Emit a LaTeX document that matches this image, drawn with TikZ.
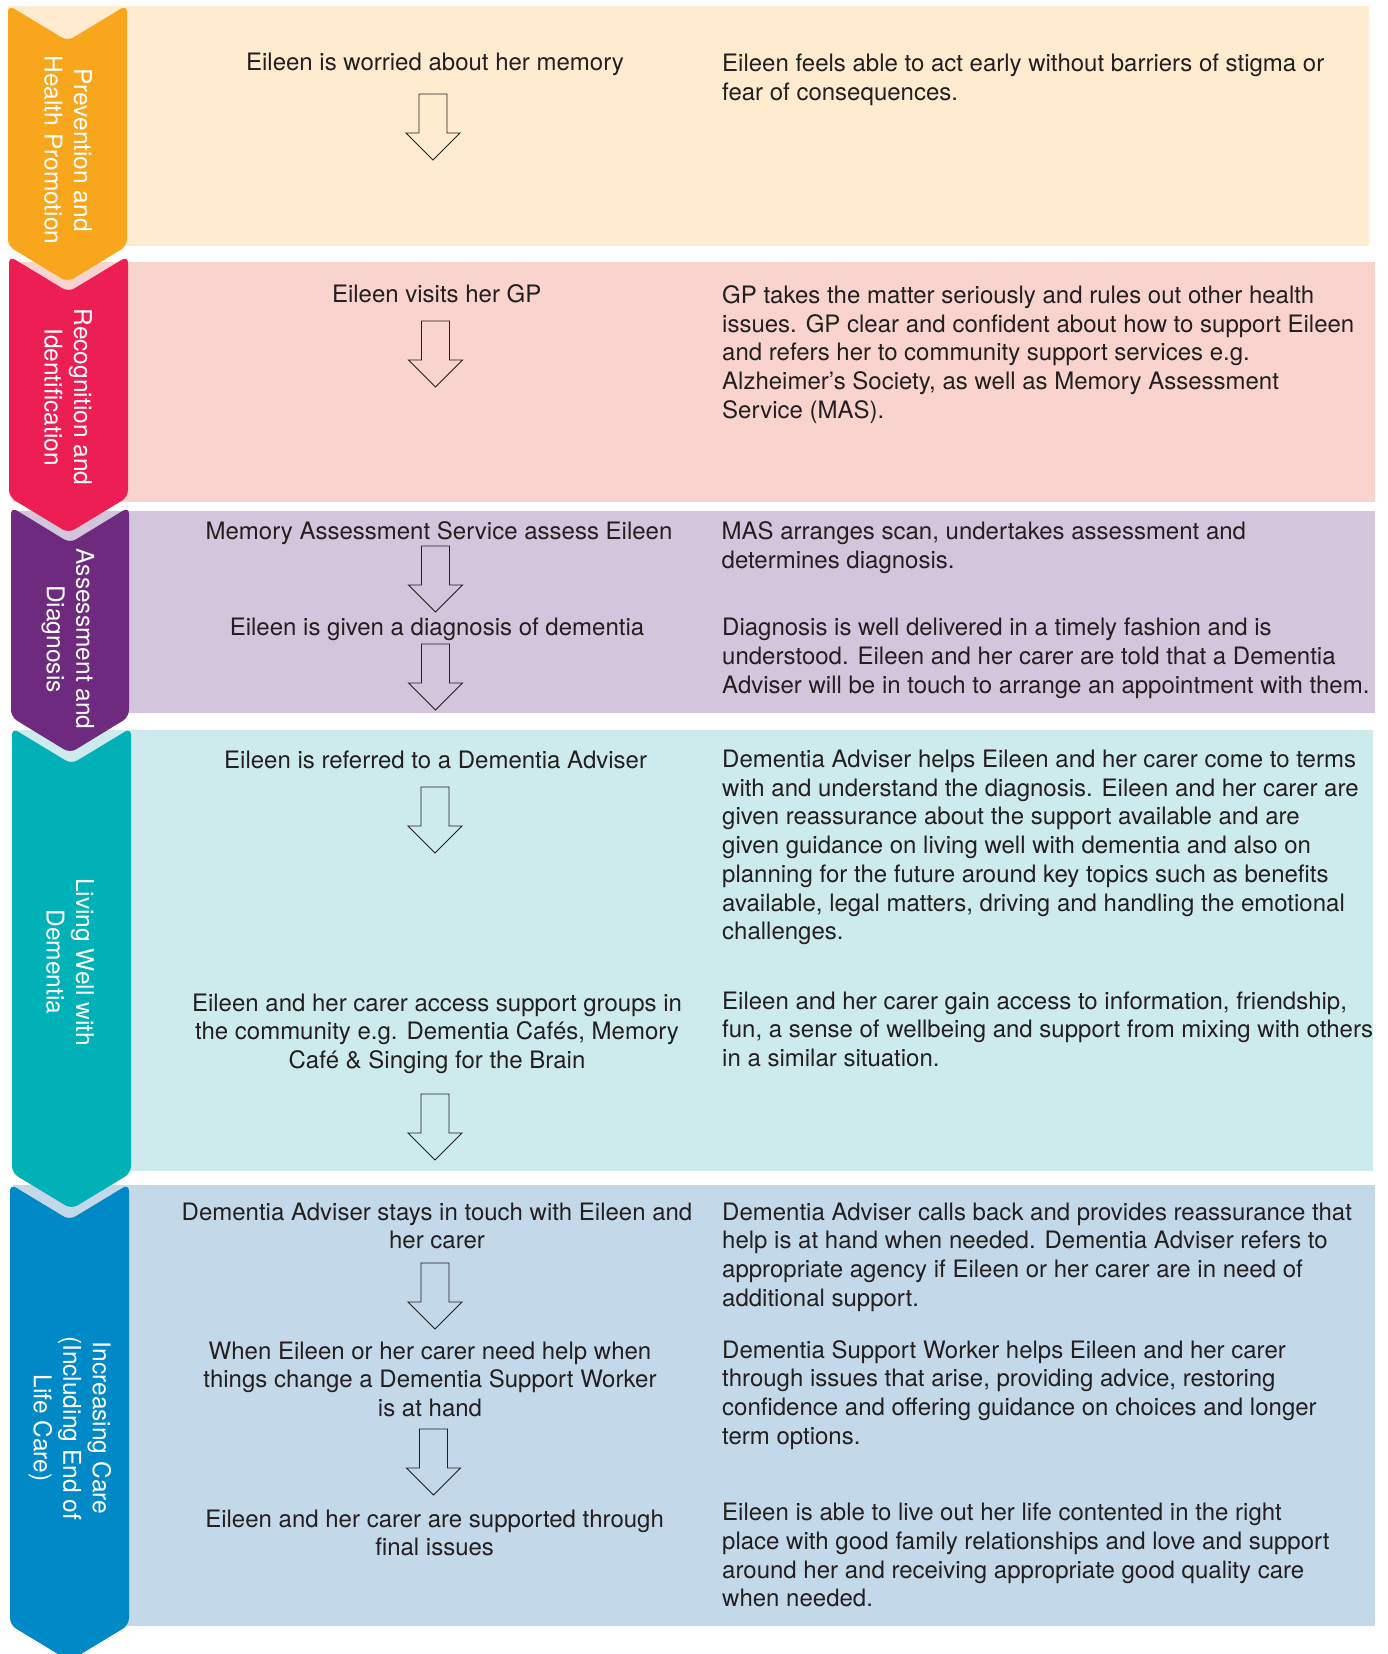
\documentclass[tikz,border=0pt]{standalone}
\usepackage{fontspec}
\setmainfont{TeX Gyre Heros}
\definecolor{ink}{HTML}{231F20}
\definecolor{cOrange}{HTML}{F8A71C}
\definecolor{bOrange}{HTML}{FEEBD0}
\definecolor{cRed}{HTML}{ED1E53}
\definecolor{bRed}{HTML}{F9D3CD}
\definecolor{cPurple}{HTML}{6D2A7E}
\definecolor{bPurple}{HTML}{D3C5DB}
\definecolor{cTeal}{HTML}{00B1B8}
\definecolor{bTeal}{HTML}{CDEAED}
\definecolor{cBlue}{HTML}{0089C7}
\definecolor{bBlue}{HTML}{C3D8E8}
\newcommand\mychevron[5]{%
  \path[fill=#5, rounded corners=7pt] (#1,#3) -- ({(#1+#2)/2},{#3+36}) -- (#2,#3) -- (#2,#4) -- ({(#1+#2)/2},{#4+36}) -- (#1,#4) -- cycle;}
\tikzset{
  body/.style={font=\fontsize{24}{28.7}\selectfont, text=ink, inner sep=0pt},
  lcol/.style={body, align=center, anchor=base},
  rcol/.style={body, align=left, anchor=base west},
  lab/.style={font=\fontsize{24.5}{29.5}\selectfont, text=white, align=center, rotate=-90, inner sep=0pt},
  downarrow/.pic={\draw[ink, line width=0.9pt, line join=miter] (-14,0) -- (14,0) -- (14,39) -- (27,39) -- (0,66) -- (-27,39) -- (-14,39) -- cycle;}
}
\begin{document}
\begin{tikzpicture}[x=1pt, y=-1pt]
\useasboundingbox (0,0) rectangle (1387,1654);
\clip (0,0) rectangle (1387,1654);
% bands
\fill[bOrange] (8,6) rectangle (1369,246);
\fill[bRed] (13,262) rectangle (1375,502);
\fill[bPurple] (13,511) rectangle (1375,713);
\fill[bTeal] (13,730) rectangle (1373,1171);
\fill[bBlue] (13,1185) rectangle (1375,1626);
% chevrons
\mychevron{8}{127}{5}{246}{cOrange}
\mychevron{9}{128}{256}{497}{cRed}
\mychevron{11}{129}{507}{717}{cPurple}
\mychevron{12}{131}{728}{1173}{cTeal}
\mychevron{10}{129}{1184}{1625}{cBlue}
% chevron labels
\node[lab] (lab1) at (68,150) {Prevention and\\Health Promotion};
\node[lab] (lab2) at (68,397) {Recognition and\\Identification};
\node[lab] (lab3) at (68,639) {Assessment and\\Diagnosis};
\node[lab] (lab4) at (70,962) {Living Well with\\Dementia};
\node[lab] (lab5) at (70,1428) {Increasing Care\\(Including End of\\Life Care)};
% left column (anchor = baseline of last line)
\node[lcol] (l1) at (435,70.2) {Eileen is worried about her memory};
\node[lcol] (l2) at (436.7,302.3) {Eileen visits her GP};
\node[lcol] (l3) at (439,539.6) {Memory Assessment Service assess Eileen};
\node[lcol] (l4) at (437,635.6) {Eileen is given a diagnosis of dementia};
\node[lcol] (l5) at (435.6,768.5) {Eileen is referred to a Dementia Adviser};
\node[lcol] (l6) at (437,1068.4) {Eileen and her carer access support groups in\\the community e.g. Dementia Cafés, Memory\\Café \& Singing for the Brain};
\node[lcol] (l7) at (437,1248.7) {Dementia Adviser stays in touch with Eileen and\\her carer};
\node[lcol] (l8) at (430,1416.4) {When Eileen or her carer need help when\\things change a Dementia Support Worker\\is at hand};
\node[lcol] (l9) at (434.6,1555.7) {Eileen and her carer are supported through\\final issues};
% arrows
\pic at (433,94) {downarrow};
\pic at (435.5,321) {downarrow};
\pic at (435.5,546) {downarrow};
\pic at (435.5,644) {downarrow};
\pic at (435,787) {downarrow};
\pic at (435,1094) {downarrow};
\pic at (435,1263) {downarrow};
\pic at (433.5,1429) {downarrow};
% right column (anchor = baseline of last line)
\node[rcol] (r1) at (722,100) {Eileen feels able to act early without barriers of stigma or\\fear of consequences.};
\node[rcol] (r2) at (722,418.1) {GP takes the matter seriously and rules out other health\\issues. GP clear and confident about how to support Eileen\\and refers her to community support services e.g.\\Alzheimer’s Society, as well as Memory Assessment\\Service (MAS).};
\node[rcol] (r3) at (721.5,568.3) {MAS arranges scan, undertakes assessment and\\determines diagnosis.};
\node[rcol] (r4) at (722,693) {Diagnosis is well delivered in a timely fashion and is\\understood. Eileen and her carer are told that a Dementia\\Adviser will be in touch to arrange an appointment with them.};
\node[rcol] (r5) at (722,939.7) {Dementia Adviser helps Eileen and her carer come to terms\\with and understand the diagnosis. Eileen and her carer are\\given reassurance about the support available and are\\given guidance on living well with dementia and also on\\planning for the future around key topics such as benefits\\available, legal matters, driving and handling the emotional\\challenges.};
\node[rcol] (r6) at (722,1066.4) {Eileen and her carer gain access to information, friendship,\\fun, a sense of wellbeing and support from mixing with others\\in a similar situation.};
\node[rcol] (r7) at (722,1306.1) {Dementia Adviser calls back and provides reassurance that\\help is at hand when needed. Dementia Adviser refers to\\appropriate agency if Eileen or her carer are in need of\\additional support.};
\node[rcol] (r8) at (722,1444.1) {Dementia Support Worker helps Eileen and her carer\\through issues that arise, providing advice, restoring\\confidence and offering guidance on choices and longer\\term options.};
\node[rcol] (r9) at (722,1606.7) {Eileen is able to live out her life contented in the right\\place with good family relationships and love and support\\around her and receiving appropriate good quality care\\when needed.};
\end{tikzpicture}
\end{document}
